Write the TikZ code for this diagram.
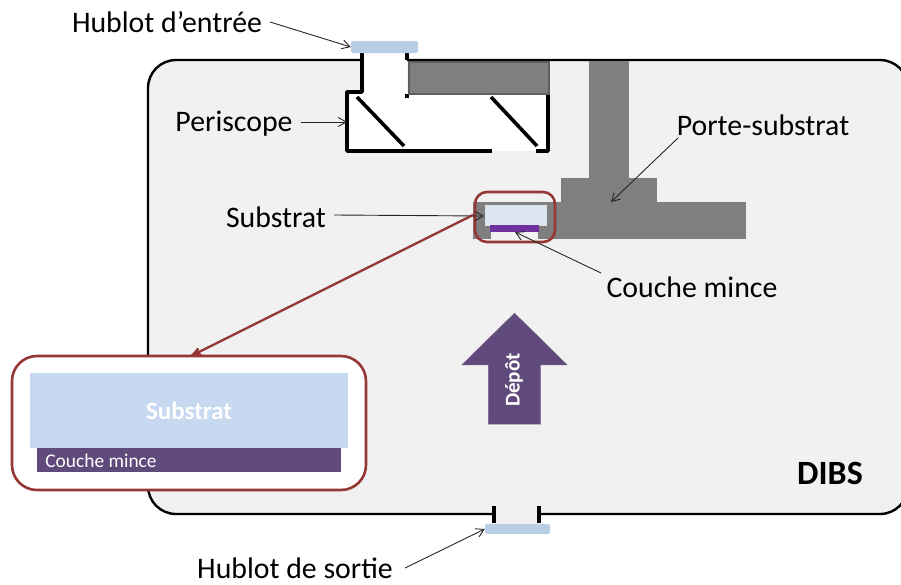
\documentclass[tikz,border=0pt]{standalone}
\usepackage{fontspec}
\setmainfont{Carlito}
\usetikzlibrary{arrows,arrows.meta,shapes.arrows}
\definecolor{chamber}{HTML}{F1F1F1}
\definecolor{holder}{HTML}{7F7F7F}
\definecolor{holderdark}{HTML}{5F5F5F}
\definecolor{glass}{HTML}{B9CDE5}
\definecolor{subst}{HTML}{C6D9F1}
\definecolor{substlight}{HTML}{DCE6F2}
\definecolor{film}{HTML}{604A7B}
\definecolor{filmlight}{HTML}{7030A0}
\definecolor{zoomred}{HTML}{953735}

\begin{document}
\begin{tikzpicture}[x=1pt,y=-1pt,>={Straight Barb[angle=60:9pt]},
                label node/.style={inner sep=0pt,font=\fontsize{29.8}{32}\selectfont},
                window node/.style={rectangle,rounded corners=2pt,fill=glass,inner sep=0pt,minimum height=12pt},
                block node/.style={rectangle,fill=holder,inner sep=0pt,anchor=north west},
                wall/.style={line width=3.6pt,line join=round},
                pointer/.style={->,line width=0.9pt,draw=black!85},
                zoom box/.style={rectangle,rounded corners,draw=zoomred,line width=2.6pt,inner sep=0pt}]
                \clip (0,0) rectangle (901,584);
                % chamber
                \draw[fill=chamber,line width=2.4pt,rounded corners=28pt] (148,60) rectangle (908,514);
                % periscope
                \fill[white] (347,92) rectangle (549,151);
                \fill[white] (363,50) rectangle (407,98);
                \draw[wall] (362,53) -- (362,92) -- (347,92) -- (347,151) -- (492,151);
                \draw[wall] (536,151) -- (548,151) -- (548,94);
                \draw[wall] (407,53) -- (407,60);
                \draw[wall] (407,94) -- (407,98);
                \node[block node,draw=holderdark,line width=2pt,minimum width=140pt,minimum height=32pt] (bar) at (408,61) {};
                \draw[wall] (357,97) -- (404,146);
                \draw[wall] (491,97) -- (537,146);
                % substrate holder
                \node[block node,minimum width=40pt,minimum height=118pt] (column) at (589,61) {};
                \node[block node,minimum width=96pt,minimum height=25pt] (foot) at (561,178) {};
                \node[block node,minimum width=273pt,minimum height=37pt] (arm) at (473,202) {};
                \fill[chamber] (491,232) rectangle (538,240);
                \node[block node,fill=substlight,draw=white!75!holder,line width=0.6pt,minimum width=61pt,minimum height=20pt] (substrat) at (485,205) {};
                \node[block node,fill=filmlight,minimum width=49pt,minimum height=7pt] (couche) at (490,225) {};
                \node[zoom box,minimum width=80pt,minimum height=50pt,rounded corners=12pt] (zoomin) at (515,217) {};
                % windows
                \node[window node,minimum width=67pt] (entree) at (384.5,47) {};
                \fill[chamber] (495,512) rectangle (538,524);
                \draw[wall] (494,506) -- (494,523);
                \draw[wall] (539,506) -- (539,523);
                \node[window node,minimum width=65pt,minimum height=10pt] (sortie) at (517.5,529) {};
                % enlarged view
                \node[zoom box,fill=white,minimum width=354pt,minimum height=134pt,rounded corners=25pt] (inset) at (189,423) {};
                \node[rectangle,fill=subst,minimum width=318pt,minimum height=75pt,inner sep=0pt,font=\fontsize{25}{27}\selectfont\bfseries,text=white] (bigsubstrat) at (189,410.5) {Substrat};
                \node[rectangle,fill=film,minimum width=304pt,minimum height=24pt,inner sep=0pt] (bigcouche) at (189,460) {};
                \node[inner sep=0pt,text=white,font=\fontsize{19.4}{21}\selectfont] (bigcouchetext) at (101,461) {Couche mince};
                % deposition arrow
                \node[single arrow,fill=film,draw=film!85,rotate=90,single arrow head extend=26.5pt,single arrow tip angle=91,text height=26pt,text depth=26pt,minimum width=105pt,minimum height=111pt,inner sep=0pt] (depot) at (514.5,381.5) {};
                \node[rotate=90,inner sep=0pt,text=white,font=\fontsize{21}{23}\selectfont\bfseries] (depottext) at (514,380) {Dépôt};
                % labels
                \node[label node] (lentree) at (167,22) {Hublot d’entrée};
                \node[label node] (lperiscope) at (234,124) {Periscope};
                \node[label node] (lporte) at (763,125) {Porte-substrat};
                \node[label node] (lsubstrat) at (276,217) {Substrat};
                \node[label node] (lcouche) at (692,287) {Couche mince};
                \node[label node] (lsortie) at (295,568) {Hublot de sortie};
                \node[font=\fontsize{34}{36}\selectfont\bfseries,inner sep=0pt] (dibs) at (830,473) {DIBS};
                \coordinate (tporte) at (611,202);
                \coordinate (tcouche) at (515,232);
                \coordinate (tsubstrat) at (484,216);
                \coordinate (tzoom) at (191,356);
                \coordinate (fporte) at (678,138);
                \coordinate (fcouche) at (601,273);
                \coordinate (fzoom) at (473,215);
                \coordinate (fentree) at (270,22);
                \coordinate (fsortie) at (405,568);

                \path[every edge/.style={draw,pointer}]
                (fentree) edge (entree.west)
                (lperiscope.east) ++(8,-2) edge (347,122)
                (fporte) edge (tporte)
                (lsubstrat.east) ++(8,-2) edge (tsubstrat)
                (fcouche) edge (tcouche)
                (fsortie) edge (sortie.west)
                ;
                \draw[->,>=stealth',draw=zoomred,line width=2.4pt] (fzoom) -- (tzoom);
                \end{tikzpicture}
\end{document}
